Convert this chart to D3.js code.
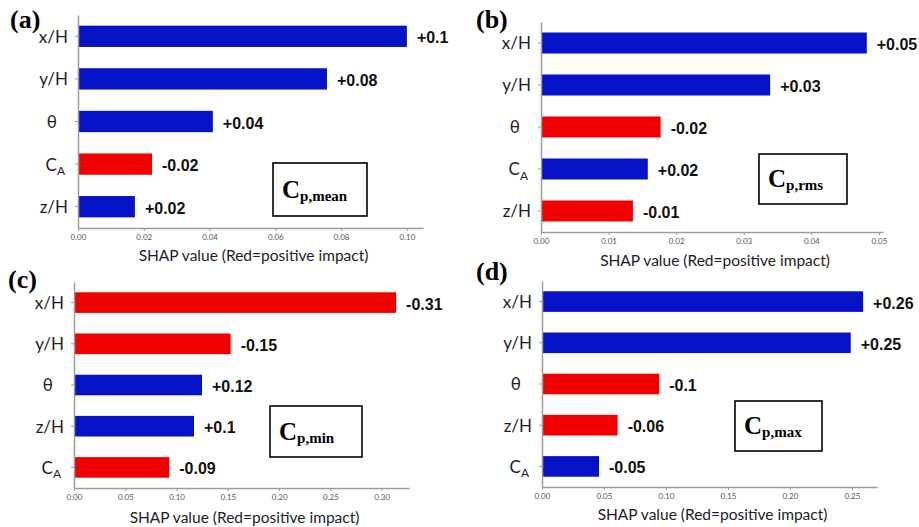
<!DOCTYPE html>
<html>
<head>
<meta charset="utf-8">
<script src="https://cdn.jsdelivr.net/npm/d3@7"></script>
<style>
  body { margin: 0; background: #fff; }
  svg { display: block; }
</style>
</head>
<body>
<div id="chart"></div>
<script>
// panel data
var letters = ["(a)", "(b)", "(c)", "(d)"];
var subs = ["p,mean", "p,rms", "p,min", "p,max"];

var featuresA = ["x/H", "y/H", "θ", "C_A", "z/H"];
var valuesA = [0.1000, 0.0757, 0.0410, 0.0225, 0.0173];
var labelsA = ["+0.1", "+0.08", "+0.04", "-0.02", "+0.02"];
var redA = [0, 0, 0, 1, 0];
var ticksA = [0, 0.02, 0.04, 0.06, 0.08, 0.10];

var featuresB = ["x/H", "y/H", "θ", "C_A", "z/H"];
var valuesB = [0.0482, 0.0339, 0.0177, 0.0158, 0.0136];
var labelsB = ["+0.05", "+0.03", "-0.02", "+0.02", "-0.01"];
var redB = [0, 0, 1, 0, 1];
var ticksB = [0, 0.01, 0.02, 0.03, 0.04, 0.05];

var featuresC = ["x/H", "y/H", "θ", "z/H", "C_A"];
var valuesC = [0.314, 0.1527, 0.1248, 0.117, 0.0929];
var labelsC = ["-0.31", "-0.15", "+0.12", "+0.1", "-0.09"];
var redC = [1, 1, 0, 0, 1];
var ticksC = [0, 0.05, 0.10, 0.15, 0.20, 0.25, 0.30];

var featuresD = ["x/H", "y/H", "θ", "z/H", "C_A"];
var valuesD = [0.259, 0.249, 0.0945, 0.061, 0.046];
var labelsD = ["+0.26", "+0.25", "-0.1", "-0.06", "-0.05"];
var redD = [0, 0, 1, 1, 0];
var ticksD = [0, 0.05, 0.10, 0.15, 0.20, 0.25];

var BLUE = "#0612c6", RED = "#f20000", AXIS = "#9c9c9c";

var svg = d3.select("#chart").append("svg")
    .attr("width", 919).attr("height", 527);

// layout of each panel (pixels)
var panels = [
  {f: featuresA, v: valuesA, l: labelsA, r: redA, t: ticksA, xmax: 0.1049,
   x0: 78, x1: 423, y0: 15, y1: 228, lx: 10, ly: 28, box: [273, 163, 94, 53], ty: 261},
  {f: featuresB, v: valuesB, l: labelsB, r: redB, t: ticksB, xmax: 0.0506,
   x0: 541, x1: 883, y0: 22, y1: 232, lx: 476, ly: 28, box: [759, 154, 88, 50], ty: 266},
  {f: featuresC, v: valuesC, l: labelsC, r: redC, t: ticksC, xmax: 0.3266,
   x0: 74, x1: 409, y0: 282, y1: 488, lx: 8, ly: 288, box: [270, 406, 92, 51], ty: 523},
  {f: featuresD, v: valuesD, l: labelsD, r: redD, t: ticksD, xmax: 0.2702,
   x0: 542, x1: 877, y0: 281, y1: 487, lx: 476, ly: 280, box: [735, 401, 87, 50], ty: 520}
];

panels.forEach(function(p, i) {
  var g = svg.append("g");

  var x = d3.scaleLinear().domain([0, p.xmax]).range([p.x0, p.x1]);
  var y = d3.scaleBand().domain(p.f).range([p.y0, p.y1])
      .paddingInner(0.5).paddingOuter(0.25);

  var rows = p.f.map(function(name, k) {
    return {name: name, value: p.v[k], label: p.l[k], red: p.r[k]};
  });

  // bars
  g.selectAll("rect.bar").data(rows).enter().append("rect")
      .attr("class", "bar")
      .attr("x", x(0))
      .attr("y", function(d) { return y(d.name); })
      .attr("width", function(d) { return x(d.value) - x(0); })
      .attr("height", y.bandwidth())
      .attr("fill", function(d) { return d.red ? RED : BLUE; });

  // value labels
  g.selectAll("text.val").data(rows).enter().append("text")
      .attr("class", "val")
      .attr("x", function(d) { return x(d.value) + 10; })
      .attr("y", function(d) { return y(d.name) + y.bandwidth() / 2 + 7; })
      .attr("font-family", "Liberation Sans, Arial, sans-serif")
      .attr("font-weight", "bold")
      .attr("font-size", 16)
      .attr("fill", "#111")
      .text(function(d) { return d.label; });

  // x axis
  var xa = g.append("g")
      .attr("transform", "translate(0," + p.y1 + ")")
      .call(d3.axisBottom(x).tickValues(p.t).tickFormat(d3.format(".2f"))
        .tickSize(3).tickSizeOuter(0).tickPadding(3));
  xa.select(".domain").attr("stroke", AXIS).attr("stroke-width", 1.5);
  xa.selectAll(".tick line").attr("stroke", AXIS);
  xa.selectAll(".tick text").attr("fill", "#555")
      .attr("font-family", "Lato, sans-serif").attr("font-size", 8);

  // y axis
  var ya = g.append("g")
      .attr("transform", "translate(" + p.x0 + ",0)")
      .call(d3.axisLeft(y).tickSize(3).tickSizeOuter(0).tickFormat(""));
  ya.select(".domain").attr("stroke", AXIS).attr("stroke-width", 1.5);
  ya.selectAll(".tick line").attr("stroke", AXIS);
  ya.selectAll(".tick").each(function(d) {
    var t = d3.select(this).append("text")
        .attr("x", d === "θ" ? -21 : (d === "C_A" ? -13 : -10))
        .attr("dy", "0.38em")
        .attr("text-anchor", "end")
        .attr("font-family", "Lato, sans-serif")
        .attr("font-size", 17)
        .attr("fill", "#1c1c2a");
    if (d === "C_A") {
      t.append("tspan").text("C");
      t.append("tspan").attr("font-size", 12).attr("dy", "0.35em").text("A");
    } else {
      t.text(d);
    }
  });

  // axis title
  g.append("text")
      .attr("x", (p.x0 + p.x1) / 2 + 3)
      .attr("y", p.ty)
      .attr("text-anchor", "middle")
      .attr("font-family", "Lato, sans-serif")
      .attr("font-size", 15.5)
      .attr("fill", "#1c1c2a")
      .text("SHAP value (Red=positive impact)");

  // panel letter
  g.append("text")
      .attr("x", p.lx).attr("y", p.ly)
      .attr("font-family", "Liberation Serif, Times New Roman, serif")
      .attr("font-weight", "bold")
      .attr("font-size", 26)
      .attr("fill", "#000")
      .text(letters[i]);

  // output box
  var b = p.box;
  g.append("rect")
      .attr("x", b[0]).attr("y", b[1]).attr("width", b[2]).attr("height", b[3])
      .attr("fill", "#fff").attr("stroke", "#000").attr("stroke-width", 1.6);
  var bt = g.append("text")
      .attr("x", b[0] + 9).attr("y", b[1] + b[3] / 2 + 8)
      .attr("font-family", "Liberation Serif, Times New Roman, serif")
      .attr("font-weight", "bold")
      .attr("fill", "#000");
  bt.append("tspan").attr("font-size", 25).text("C");
  bt.append("tspan").attr("font-size", 15).attr("dy", 3).text(subs[i]);
});
</script>
</body>
</html>
